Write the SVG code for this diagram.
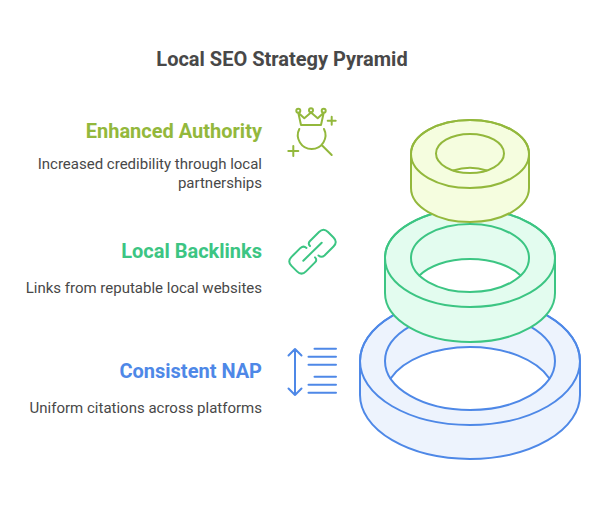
<svg xmlns="http://www.w3.org/2000/svg" width="604" height="508" viewBox="0 0 604 508">
<style>
text{font-family:Roboto,"Liberation Sans",sans-serif;text-anchor:end}
.title{font-size:20px;font-weight:700;fill:#484848;text-anchor:middle}
.head{font-size:20px;font-weight:700}
.desc{font-size:15px;fill:#484848}
.ln{fill:none;stroke-width:2;stroke-linecap:round;stroke-linejoin:round}
.body{stroke:none;fill-rule:evenodd}
.blue{stroke:#4e88e7}.green{stroke:#3cc583}.olive{stroke:#93b83c}
.fb{fill:#edf3fd}.fg{fill:#e3fcef}.fo{fill:#f5fddf}
</style>
<rect width="604" height="508" fill="#fff"/>
<text class="title" x="282" y="66">Local SEO Strategy Pyramid</text>
<g id="consistent-nap">
<path class="body fb" d="M360 361A110 64 0 0 1 580 361V395A110 64 0 0 1 360 395ZM390.600 378.500A85 49 0 0 0 549.400 378.500A85 49 0 0 0 390.600 378.500Z"/>
<path class="ln blue" d="M360 361A110 64 0 0 1 580 361V395A110 64 0 0 1 360 395Z"/>
<ellipse class="ln blue" cx="470" cy="361" rx="110" ry="64"/>
<ellipse class="ln blue" cx="470" cy="361" rx="85" ry="49"/>
<path class="ln blue" d="M390.600 378.500A85 49 0 0 1 549.400 378.500"/>
<path class="ln blue" d="M295 349V395M288.500 355.500L295 349L301.500 355.500M288.500 388.500L295 395L301.500 388.500M314.500 348.700H336M308.500 356.700H336M308.500 364.700H336M314.500 376.700H336M308.500 384.700H336M308.500 392.700H336"/>
<text class="head" x="262" y="378" fill="#4e88e7">Consistent NAP</text>
<text class="desc" x="262" y="413">Uniform citations across platforms</text>
</g>
<g id="local-backlinks">
<path class="body fg" d="M385 258A85 49 0 0 1 555 258V293A85 49 0 0 1 385 293ZM419.400 275.500A59 34 0 0 0 520.600 275.500A59 34 0 0 0 419.400 275.500Z"/>
<path class="ln green" d="M385 258A85 49 0 0 1 555 258V293A85 49 0 0 1 385 293Z"/>
<ellipse class="ln green" cx="470" cy="258" rx="85" ry="49"/>
<ellipse class="ln green" cx="470" cy="258" rx="59" ry="34"/>
<path class="ln green" d="M419.400 275.500A59 34 0 0 1 520.600 275.500"/>
<path class="ln green" d="M310 246Q307.500 243.500 310 241L319 232Q323.500 227.500 328 232L333.500 237.500Q338 242 333.500 246.500L324.500 255.500Q321.500 258 318.500 255.500"/>
<path class="ln green" transform="rotate(180 312.500 251.700)" d="M310 246Q307.500 243.500 310 241L319 232Q323.500 227.500 328 232L333.500 237.500Q338 242 333.500 246.500L324.500 255.500Q321.500 258 318.500 255.500"/>
<path class="ln green" d="M303.300 260.700L321.700 242.700"/>
<text class="head" x="262" y="258" fill="#3cc583">Local Backlinks</text>
<text class="desc" x="262" y="293">Links from reputable local websites</text>
</g>
<g id="enhanced-authority">
<path class="body fo" d="M411 154A59 34 0 0 1 529 154V188A59 34 0 0 1 411 188ZM453.300 170.500A34 19.500 0 0 0 486.700 170.500A34 19.500 0 0 0 453.300 170.500Z"/>
<path class="ln olive" d="M411 154A59 34 0 0 1 529 154V188A59 34 0 0 1 411 188Z"/>
<ellipse class="ln olive" cx="470" cy="154" rx="59" ry="34"/>
<ellipse class="ln olive" cx="470" cy="153.500" rx="34" ry="19.500"/>
<path class="ln olive" d="M453.300 170.500A34 19.500 0 0 1 486.700 170.500"/>
<path class="ln olive" d="M301 125L298.300 112.700L304.300 118.300L311 112.500L317.700 118.300L323.700 112.700L321 125ZM299.300 129A13.800 13.800 0 1 0 324 129M321.700 145L331.700 155M327.700 120.700H335.700M288.300 151H298.300M293.300 146V156M331.700 116.700V124.700"/>
<circle class="ln olive" cx="298.300" cy="110.700" r="2"/>
<circle class="ln olive" cx="311" cy="110.300" r="2"/>
<circle class="ln olive" cx="323.700" cy="110.700" r="2"/>
<text class="head" x="262" y="138" fill="#93b83c">Enhanced Authority</text>
<text class="desc" x="262" y="169">Increased credibility through local</text>
<text class="desc" x="262" y="188">partnerships</text>
</g>
</svg>
